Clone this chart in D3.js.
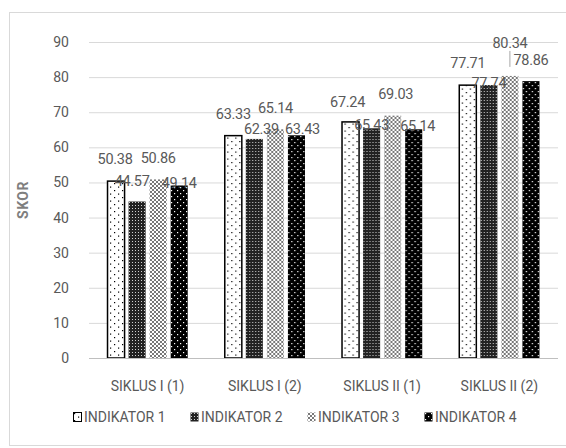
<!DOCTYPE html>
<html>
<head>
<meta charset="utf-8">
<script src="https://cdn.jsdelivr.net/npm/d3@7"></script>
<style>
  body { margin: 0; background: #fff; }
  text { font-family: "Liberation Sans Narrow", "Arial Narrow", Roboto, sans-serif; fill: #595959; }
</style>
</head>
<body>
<div id="chart"></div>
<script>
// data
var categories = ["SIKLUS I (1)", "SIKLUS I (2)", "SIKLUS II (1)", "SIKLUS II (2)"];
var seriesNames = ["INDIKATOR 1", "INDIKATOR 2", "INDIKATOR 3", "INDIKATOR 4"];
var indikator1 = [50.38, 63.33, 67.24, 77.71];
var indikator2 = [44.57, 62.39, 65.43, 77.74];
var indikator3 = [50.86, 65.14, 69.03, 80.34];
var indikator4 = [49.14, 63.43, 65.14, 78.86];
var yTicks = [0, 10, 20, 30, 40, 50, 60, 70, 80, 90];

var allSeries = [indikator1, indikator2, indikator3, indikator4];

// label nudges (px) as the labels were dragged around in the original
var labelLift = [
  [22, 21, 21, 3],
  [22, 10, 21, 6],
  [20, 3, 22, 3],
  [22, 2, 33, 21]
];
var labelShift = [
  [-1, -5, 0, 0],
  [0, 7, 0, 6],
  [-3, 0, 3, 4],
  [0, 0, 0, 0]
];

var W = 566, H = 448;
var margin = {top: 42, right: 8, bottom: 90, left: 89};
var width = W - margin.left - margin.right,
    height = H - margin.top - margin.bottom;

var svg = d3.select("#chart").append("svg")
    .attr("width", W)
    .attr("height", H);

// chart frame
svg.append("rect")
    .attr("x", 9.5).attr("y", 12.5)
    .attr("width", 570).attr("height", 433)
    .attr("fill", "none")
    .attr("stroke", "#d9d9d9");

// patterns
var defs = svg.append("defs");

var p1 = defs.append("pattern").attr("id", "pat1")
    .attr("patternUnits", "userSpaceOnUse").attr("width", 8).attr("height", 7);
p1.append("rect").attr("width", 8).attr("height", 7).attr("fill", "#fff");
p1.append("rect").attr("x", 1).attr("y", 1).attr("width", 1.2).attr("height", 1.2).attr("fill", "#000");
p1.append("rect").attr("x", 5).attr("y", 4.5).attr("width", 1.2).attr("height", 1.2).attr("fill", "#000");

var p2 = defs.append("pattern").attr("id", "pat2")
    .attr("patternUnits", "userSpaceOnUse").attr("width", 3).attr("height", 3);
p2.append("rect").attr("width", 3).attr("height", 3).attr("fill", "#222");
p2.append("rect").attr("x", 1).attr("y", 1).attr("width", 1).attr("height", 1).attr("fill", "#d0d0d0");

var p3 = defs.append("pattern").attr("id", "pat3")
    .attr("patternUnits", "userSpaceOnUse").attr("width", 4).attr("height", 4);
p3.append("rect").attr("width", 4).attr("height", 4).attr("fill", "#fff");
p3.append("path").attr("d", "M0,0L4,4M4,0L0,4")
    .attr("stroke", "#555").attr("stroke-width", 0.8);

var p4 = defs.append("pattern").attr("id", "pat4")
    .attr("patternUnits", "userSpaceOnUse").attr("width", 6).attr("height", 6);
p4.append("rect").attr("width", 6).attr("height", 6).attr("fill", "#000");
p4.append("rect").attr("x", 1).attr("y", 1).attr("width", 1.2).attr("height", 1.2).attr("fill", "#fff");
p4.append("rect").attr("x", 4).attr("y", 4).attr("width", 1.2).attr("height", 1.2).attr("fill", "#fff");

var fills = ["url(#pat1)", "url(#pat2)", "url(#pat3)", "url(#pat4)"];

var g = svg.append("g")
    .attr("transform", "translate(" + margin.left + "," + margin.top + ")");

// scales
var x0 = d3.scaleBand().domain(categories).range([0, width]).padding(0);
var x1 = d3.scaleBand().domain(d3.range(4))
    .range([x0.bandwidth() / 2 - 42, x0.bandwidth() / 2 + 42])
    .paddingInner(0.19).paddingOuter(0.09);
var y = d3.scaleLinear().domain([0, 90]).range([height, 0]);

// grid
g.selectAll(".grid").data(yTicks).enter().append("line")
    .attr("x1", 0).attr("x2", width)
    .attr("y1", function(d) { return y(d) + 0.5; })
    .attr("y2", function(d) { return y(d) + 0.5; })
    .attr("stroke", "#d9d9d9");

// y axis
var yAxis = g.append("g")
    .call(d3.axisLeft(y).tickValues(yTicks).tickSize(0).tickPadding(20));
yAxis.select(".domain").remove();
yAxis.selectAll("text").style("font-size", "14px").attr("fill", "#595959");

svg.append("text")
    .attr("transform", "translate(28," + (margin.top + height / 2) + ") rotate(-90)")
    .attr("text-anchor", "middle")
    .style("font-size", "14px")
    .style("font-weight", "bold")
    .style("letter-spacing", "0.5px")
    .style("fill", "#7f7f7f")
    .text("SKOR");

// bars
var groups = g.selectAll(".grp").data(categories).enter().append("g")
    .attr("transform", function(d) { return "translate(" + x0(d) + ",0)"; });

groups.each(function(cat, ci) {
  var gg = d3.select(this);
  allSeries.forEach(function(s, si) {
    gg.append("rect")
      .attr("x", x1(si))
      .attr("y", y(s[ci]))
      .attr("width", x1.bandwidth())
      .attr("height", height - y(s[ci]))
      .attr("fill", fills[si])
      .attr("stroke", si === 0 ? "#000" : "none")
      .attr("stroke-width", si === 0 ? 1.5 : 0);
  });
});

// x axis line
g.append("line")
    .attr("x1", 0).attr("x2", width)
    .attr("y1", height + 0.5).attr("y2", height + 0.5)
    .attr("stroke", "#bfbfbf");

// category labels
g.selectAll(".cat").data(categories).enter().append("text")
    .attr("x", function(d) { return x0(d) + x0.bandwidth() / 2; })
    .attr("y", height + 33)
    .attr("text-anchor", "middle")
    .style("font-size", "14px")
    .text(function(d) { return d; });

// data labels
groups.each(function(cat, ci) {
  var gg = d3.select(this);
  allSeries.forEach(function(s, si) {
    var cx = x1(si) + x1.bandwidth() / 2 + labelShift[ci][si];
    var cy = y(s[ci]) - labelLift[ci][si];
    gg.append("text")
      .attr("x", cx)
      .attr("y", cy)
      .attr("dy", "0.35em")
      .attr("text-anchor", "middle")
      .style("font-size", "14.5px")
      .style("letter-spacing", "-0.3px")
      .text(s[ci].toFixed(2));
    if (labelLift[ci][si] > 30) {
      gg.append("line")
        .attr("x1", cx).attr("x2", cx)
        .attr("y1", cy + 8).attr("y2", y(s[ci]) - 9)
        .attr("stroke", "#a6a6a6");
    }
  });
});

// legend
var legendX = [73, 190, 307, 424];
var legend = svg.selectAll(".leg").data(seriesNames).enter().append("g")
    .attr("transform", function(d, i) { return "translate(" + legendX[i] + ",412)"; });
legend.append("rect")
    .attr("x", 0.5).attr("y", 0.5)
    .attr("width", 8).attr("height", 9)
    .attr("fill", function(d, i) { return fills[i]; })
    .attr("stroke", function(d, i) { return i === 0 ? "#000" : "none"; });
legend.append("text")
    .attr("x", 11).attr("y", 5).attr("dy", "0.35em")
    .style("font-size", "14px")
    .text(function(d) { return d; });
</script>
</body>
</html>
